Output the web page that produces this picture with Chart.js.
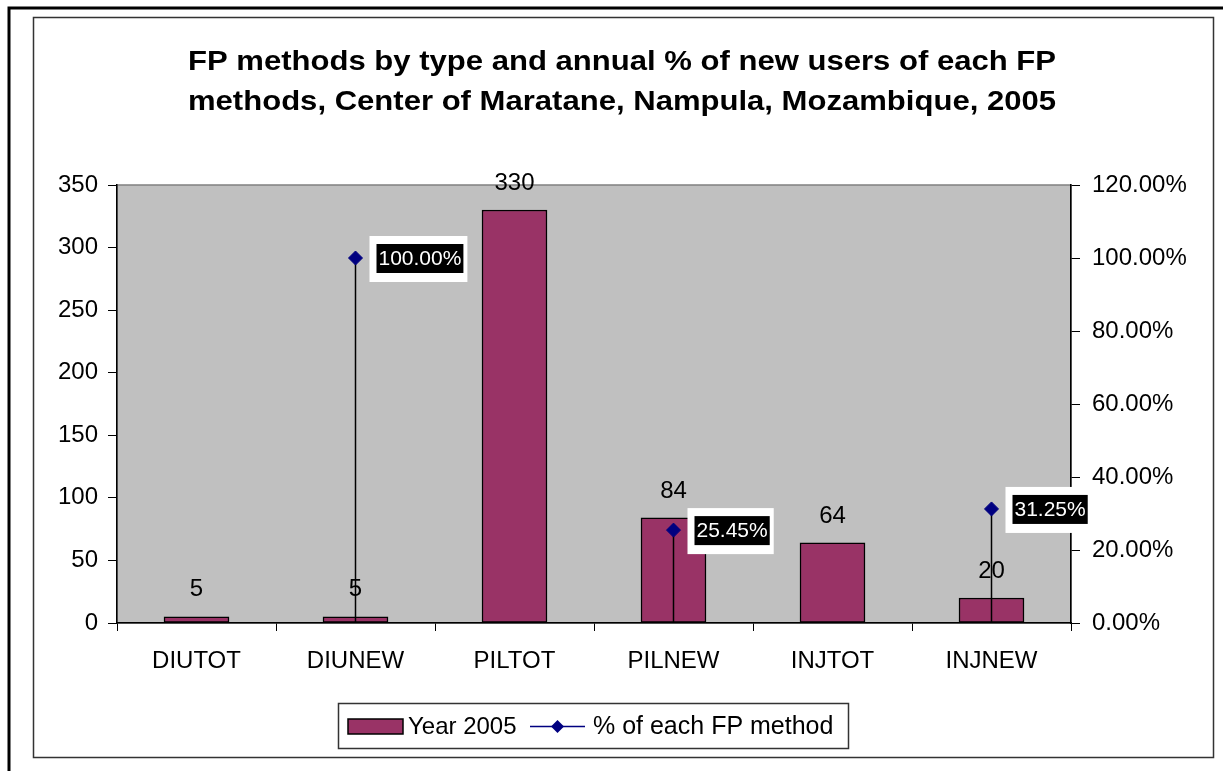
<!DOCTYPE html>
<html>
<head>
<meta charset="utf-8">
<script src="https://cdn.jsdelivr.net/npm/chart.js@4.4.1/dist/chart.umd.min.js"></script>
<style>
  html, body { margin: 0; padding: 0; background: #fff; }
  canvas { display: block; }
</style>
</head>
<body>
<canvas id="chart" width="1223" height="771"></canvas>
<script>
const methods = ['DIUTOT', 'DIUNEW', 'PILTOT', 'PILNEW', 'INJTOT', 'INJNEW'];
const year2005 = [5, 5, 330, 84, 64, 20];
const newUserShare = [null, 1.0, null, 0.2545, null, 0.3125];
const leftTicks = [0, 50, 100, 150, 200, 250, 300, 350];
const rightTicks = [0, 0.2, 0.4, 0.6, 0.8, 1.0, 1.2];

const titleLines = [
  'FP methods by type and annual % of new users of each FP',
  'methods, Center of Maratane, Nampula, Mozambique, 2005'
];
const FONT = '"Liberation Sans", Arial, sans-serif';
const pct = v => (v * 100).toFixed(2) + '%';

// frame, title and grey plot background
const framePlugin = {
  id: 'frame',
  beforeDraw(chart) {
    const ctx = chart.ctx;
    const a = chart.chartArea;
    ctx.save();
    ctx.fillStyle = '#fff';
    ctx.fillRect(0, 0, chart.width, chart.height);

    ctx.strokeStyle = '#000';
    ctx.lineWidth = 3;
    ctx.beginPath();
    ctx.moveTo(9, chart.height);
    ctx.lineTo(9, 8);
    ctx.lineTo(chart.width, 8);
    ctx.stroke();

    ctx.strokeStyle = '#333';
    ctx.lineWidth = 1.5;
    ctx.strokeRect(33.5, 17.5, 1180, 740);

    ctx.fillStyle = '#c0c0c0';
    ctx.fillRect(a.left, a.top, a.right - a.left, a.bottom - a.top);
    ctx.strokeStyle = '#808080';
    ctx.lineWidth = 1.5;
    ctx.strokeRect(a.left, a.top, a.right - a.left, a.bottom - a.top);

    // title is a bit wider than plain Arial in the original
    ctx.fillStyle = '#000';
    ctx.font = 'bold 27px ' + FONT;
    ctx.textAlign = 'center';
    ctx.textBaseline = 'middle';
    const w = ctx.measureText(titleLines[0]).width;
    const sx = 868 / w;
    ctx.translate(622, 0);
    ctx.scale(sx, 1);
    ctx.fillText(titleLines[0], 0, 63);
    ctx.fillText(titleLines[1], 0, 103);
    ctx.restore();
  }
};

// drop lines from each % point down to the axis
const dropLines = {
  id: 'dropLines',
  beforeDatasetDraw(chart, args) {
    if (args.meta.type !== 'line') return;
    const ctx = chart.ctx;
    ctx.save();
    ctx.strokeStyle = '#000';
    ctx.lineWidth = 1.5;
    args.meta.data.forEach((pt, i) => {
      if (newUserShare[i] == null) return;
      ctx.beginPath();
      ctx.moveTo(pt.x, pt.y);
      ctx.lineTo(pt.x, chart.chartArea.bottom);
      ctx.stroke();
    });
    ctx.restore();
  }
};

const valueLabels = {
  id: 'valueLabels',
  afterDatasetsDraw(chart) {
    const ctx = chart.ctx;
    ctx.save();
    ctx.textBaseline = 'middle';

    const bars = chart.getDatasetMeta(1);
    ctx.font = '24px ' + FONT;
    ctx.fillStyle = '#000';
    ctx.textAlign = 'center';
    bars.data.forEach((bar, i) => {
      ctx.fillText(String(year2005[i]), bar.x, bar.y - 27);
    });

    const pts = chart.getDatasetMeta(0);
    ctx.font = '21px ' + FONT;
    ctx.textAlign = 'left';
    pts.data.forEach((pt, i) => {
      if (newUserShare[i] == null) return;
      const txt = pct(newUserShare[i]);
      const w = ctx.measureText(txt).width + 4;
      const x = pt.x + 21, y = pt.y;
      ctx.fillStyle = '#fff';
      ctx.fillRect(x - 7, y - 22, w + 11, 46);
      ctx.fillStyle = '#000';
      ctx.fillRect(x, y - 14, w, 29);
      ctx.fillStyle = '#fff';
      ctx.fillText(txt, x + 2, y + 1);
    });
    ctx.restore();
  }
};

const legendBox = {
  id: 'legendBox',
  afterDraw(chart) {
    const ctx = chart.ctx;
    ctx.save();
    ctx.strokeStyle = '#333';
    ctx.lineWidth = 1.5;
    ctx.strokeRect(338.5, 703.5, 510, 45);

    ctx.fillStyle = '#993366';
    ctx.fillRect(348, 719, 55, 15);
    ctx.strokeStyle = '#000';
    ctx.lineWidth = 1.5;
    ctx.strokeRect(348, 719, 55, 15);

    ctx.strokeStyle = '#000080';
    ctx.lineWidth = 1.5;
    ctx.beginPath();
    ctx.moveTo(530, 726.5);
    ctx.lineTo(585, 726.5);
    ctx.stroke();
    ctx.fillStyle = '#000080';
    ctx.beginPath();
    ctx.moveTo(557.5, 720);
    ctx.lineTo(564, 726.5);
    ctx.lineTo(557.5, 733);
    ctx.lineTo(551, 726.5);
    ctx.closePath();
    ctx.fill();

    ctx.fillStyle = '#000';
    ctx.font = '24px ' + FONT;
    ctx.textAlign = 'left';
    ctx.textBaseline = 'middle';
    ctx.fillText('Year 2005', 408, 727);
    ctx.font = '25px ' + FONT;
    ctx.fillText('% of each FP method', 593, 727);
    ctx.restore();
  }
};

const tickFont = { family: FONT, size: 24 };

new Chart(document.getElementById('chart').getContext('2d'), {
  data: {
    labels: methods,
    datasets: [
      {
        type: 'line',
        label: '% of each FP method',
        data: newUserShare,
        yAxisID: 'y1',
        showLine: false,
        pointStyle: 'rectRot',
        pointRadius: 7,
        pointBackgroundColor: '#000080',
        pointBorderColor: '#000080'
      },
      {
        type: 'bar',
        label: 'Year 2005',
        data: year2005,
        yAxisID: 'y',
        backgroundColor: '#993366',
        borderColor: '#000',
        borderWidth: 1.5,
        borderSkipped: false,
        barThickness: 65
      }
    ]
  },
  options: {
    responsive: false,
    animation: false,
    events: [],
    layout: { padding: { top: 185, left: 0, right: 0, bottom: 0 } },
    plugins: {
      legend: { display: false },
      title: { display: false },
      tooltip: { enabled: false }
    },
    scales: {
      x: {
        offset: true,
        grid: { offset: true, drawOnChartArea: false, tickLength: 8, color: '#000' },
        border: { color: '#000', width: 1.5 },
        ticks: { font: tickFont, color: '#000', padding: 16, maxRotation: 0 },
        afterFit: s => { s.height = 148; }
      },
      y: {
        position: 'left',
        min: 0,
        max: 350,
        afterBuildTicks: s => { s.ticks = leftTicks.map(v => ({ value: v })); },
        grid: { drawOnChartArea: false, tickLength: 9, color: '#000' },
        border: { color: '#000', width: 1.5 },
        ticks: { font: tickFont, color: '#000', padding: 10 },
        afterFit: s => { s.width = 117; }
      },
      y1: {
        position: 'right',
        min: 0,
        max: 1.2,
        afterBuildTicks: s => { s.ticks = rightTicks.map(v => ({ value: v })); },
        grid: { drawOnChartArea: false, tickLength: 9, color: '#000' },
        border: { color: '#000', width: 1.5 },
        ticks: { font: tickFont, color: '#000', padding: 12, callback: v => pct(v) },
        afterFit: s => { s.width = 152; }
      }
    }
  },
  plugins: [framePlugin, dropLines, valueLabels, legendBox]
});
</script>
</body>
</html>
